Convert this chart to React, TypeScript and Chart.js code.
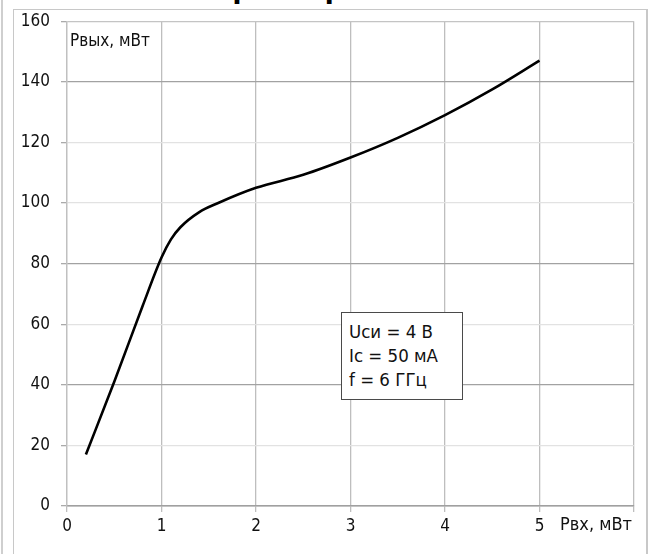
import React, { useEffect, useRef } from "react";
import { Chart, registerables } from "chart.js";

Chart.register(...registerables);

const pInValues: number[] = [0.2, 0.5, 0.8, 1.0, 1.1, 1.2, 1.4, 1.6, 2.0, 2.5, 3.0, 3.5, 4.0, 4.5, 5.0];
const pOutValues: number[] = [17, 41, 66, 82, 88, 92, 97, 100, 105, 109.3, 115, 121.5, 129, 137.5, 147];
const xTickValues: number[] = [0, 1, 2, 3, 4, 5];
const darkYGrid: number[] = [0, 40, 80, 140];
const yAxisLabel = "Рвых, мВт";
const xAxisLabel = "Рвх, мВт";
const noteLines: string[] = ["Uси = 4 В", "Ic = 50 мА", "f = 6 ГГц"];
const titleTail = "характеристика";

const FONT = "'DejaVu Sans Condensed', 'DejaVu Sans', sans-serif";

export default function App() {
  const ref = useRef<HTMLCanvasElement | null>(null);

  useEffect(() => {
    if (!ref.current) return;
    const points = pInValues.map((x, i) => ({ x, y: pOutValues[i] }));
    const chart = new Chart(ref.current, {
      type: "line",
      data: {
        datasets: [
          {
            data: points,
            borderColor: "#000000",
            borderWidth: 2.6,
            pointRadius: 0,
            fill: false,
            cubicInterpolationMode: "monotone",
          },
        ],
      },
      options: {
        responsive: false,
        animation: false,
        layout: { padding: { left: 0, right: 19, top: 20, bottom: 0 } },
        plugins: { legend: { display: false }, tooltip: { enabled: false } },
        scales: {
          x: {
            type: "linear",
            min: 0,
            max: 6,
            afterFit: (s: any) => {
              s.height = 48;
            },
            ticks: {
              stepSize: 1,
              padding: 4,
              color: "#111",
              font: { family: FONT, size: 17 },
              callback: (v: any) => (xTickValues.includes(Number(v)) ? String(v) : ""),
              maxRotation: 0,
            },
            grid: {
              color: "#bebebe",
              tickColor: "#bebebe",
              tickLength: 6,
              lineWidth: 1.3,
            },
            border: { display: true, color: "#a0a0a0", width: 1.5 },
          },
          y: {
            min: 0,
            max: 160,
            afterFit: (s: any) => {
              s.width = 67;
            },
            ticks: {
              stepSize: 20,
              padding: 11,
              color: "#111",
              font: { family: FONT, size: 17 },
            },
            grid: {
              color: (ctx: any) =>
                ctx.tick && darkYGrid.includes(ctx.tick.value)
                  ? "#a2a2a2"
                  : ctx.tick && ctx.tick.value === 160
                  ? "#c4c4c4"
                  : "#e2e2e2",
              tickColor: "#aaaaaa",
              tickLength: 6,
              lineWidth: 1.3,
            },
            border: { display: true, color: "#c0c0c0", width: 1.3 },
          },
        },
      },
    });
    return () => chart.destroy();
  }, []);

  return (
    <div
      style={{
        position: "fixed",
        left: 0,
        top: 0,
        width: 653,
        height: 554,
        overflow: "hidden",
        background: "#fff",
        fontFamily: FONT,
      }}
    >
      <div
        style={{
          position: "absolute",
          left: 1,
          top: 0,
          width: 0,
          height: 554,
          borderLeft: "2px solid #cfcfcf",
        }}
      />
      <div
        style={{
          position: "absolute",
          left: 0,
          top: -32,
          width: 653,
          textAlign: "center",
          fontFamily: "'Liberation Sans', Arial, sans-serif",
          fontWeight: "bold",
          fontSize: 34,
          lineHeight: "34px",
          color: "#000",
          whiteSpace: "nowrap",
        }}
      >
        {titleTail}
      </div>
      <div
        style={{
          position: "absolute",
          left: 13,
          top: 9,
          width: 635,
          height: 560,
          border: "1px solid #c8c8c8",
          borderRight: "2px solid #c8c8c8",
          boxSizing: "border-box",
        }}
      />
      <canvas
        ref={ref}
        width={653}
        height={554}
        style={{ position: "absolute", left: 0, top: 0, width: 653, height: 554 }}
      />
      <div
        style={{
          position: "absolute",
          left: 70,
          top: 30,
          fontSize: 17,
          lineHeight: "20px",
          color: "#111",
          whiteSpace: "nowrap",
        }}
      >
        {yAxisLabel}
      </div>
      <div
        style={{
          position: "absolute",
          left: 560,
          top: 514,
          fontSize: 18,
          lineHeight: "20px",
          color: "#111",
          whiteSpace: "nowrap",
        }}
      >
        {xAxisLabel}
      </div>
      <div
        style={{
          position: "absolute",
          left: 341,
          top: 312,
          width: 122,
          height: 88,
          boxSizing: "border-box",
          border: "1.5px solid #4a4a4a",
          background: "#fff",
          padding: "7px 0 0 7px",
          fontSize: 18.5,
          lineHeight: "24px",
          color: "#111",
          whiteSpace: "nowrap",
        }}
      >
        {noteLines.map((l, i) => (
          <div key={i}>{l}</div>
        ))}
      </div>
    </div>
  );
}
